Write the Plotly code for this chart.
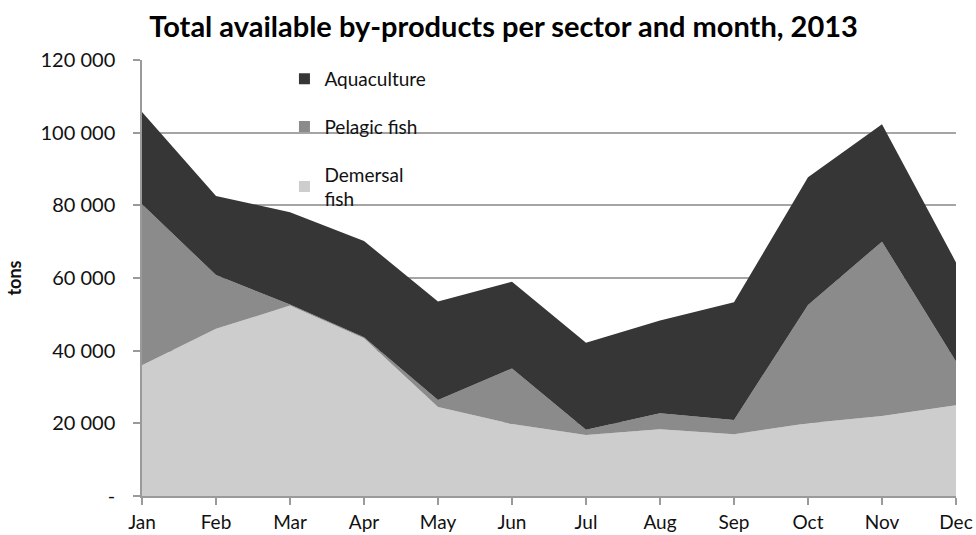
import plotly.graph_objects as go

# Monthly by-product volumes (tons), 2013
months = ["Jan", "Feb", "Mar", "Apr", "May", "Jun", "Jul", "Aug", "Sep", "Oct", "Nov", "Dec"]
demersal_fish = [36000, 46000, 52400, 43400, 24500, 19800, 16800, 18400, 17000, 20000, 22000, 25000]
pelagic_fish = [44300, 14800, 300, 300, 1900, 15300, 1400, 4400, 3900, 32600, 48000, 12000]
aquaculture = [25400, 21800, 25400, 26500, 27100, 23900, 24000, 25500, 32400, 35100, 32300, 27300]

y_ticks = [0, 20000, 40000, 60000, 80000, 100000, 120000]
y_tick_text = ["-", "20 000", "40 000", "60 000", "80 000", "100 000", "120 000"]

colors = {"Demersal": "#cdcdcd", "Pelagic": "#8b8b8b", "Aquaculture": "#363636"}
font_family = "Lato, 'Open Sans', sans-serif"

fig = go.Figure()

# bottom to top in the stack; rank sets the legend order (top entry first)
series = [
    ("Demersal<br>fish", demersal_fish, colors["Demersal"], 3),
    ("Pelagic fish", pelagic_fish, colors["Pelagic"], 2),
    ("Aquaculture", aquaculture, colors["Aquaculture"], 1),
]

for i, (name, vals, col, rank) in enumerate(series):
    fig.add_trace(go.Scatter(
        x=months, y=vals, name=name, mode="lines",
        stackgroup="one", line=dict(width=0, color=col),
        fillcolor=col, showlegend=False, hoverinfo="x+y+name",
    ))
    # square legend key for the series
    fig.add_trace(go.Scatter(
        x=[None], y=[None], name=name, mode="markers",
        marker=dict(symbol="square", size=11, color=col),
        legendgroup="g%d" % rank, legendrank=rank, showlegend=True,
    ))

fig.update_layout(
    width=976, height=535,
    margin=dict(l=142, r=20, t=60, b=39, autoexpand=False),
    paper_bgcolor="white", plot_bgcolor="white",
    font=dict(family=font_family, size=19, color="#111111"),
    title=dict(
        text="<b>Total available by-products per sector and month, 2013</b>",
        x=0.516, xanchor="center", y=0.95, yanchor="middle",
        font=dict(size=29, color="#000000"),
    ),
    legend=dict(
        x=0.175, xanchor="left", y=1.0, yanchor="top",
        bgcolor="rgba(0,0,0,0)", traceorder="grouped",
        tracegroupgap=20, font=dict(size=19),
        itemwidth=30,
    ),
    showlegend=True,
)

fig.update_xaxes(
    range=[0, 11], showgrid=False, showline=True, linecolor="#9a9a9a", linewidth=1.5,
    ticks="outside", ticklen=7, tickcolor="#9a9a9a", tickwidth=1.5,
    ticklabelstandoff=1, tickfont=dict(size=19), fixedrange=True, automargin=False,
)
fig.update_yaxes(
    range=[0, 120000], tickvals=y_ticks, ticktext=y_tick_text,
    showgrid=True, gridcolor="#a5a5a5", gridwidth=1.5,
    showline=True, linecolor="#9a9a9a", linewidth=1.5,
    ticks="outside", ticklen=7, tickcolor="#9a9a9a", tickwidth=1.5,
    ticklabelstandoff=14, tickfont=dict(size=20),
    title=dict(text="<b>tons</b>", font=dict(size=18), standoff=14),
    zeroline=False, fixedrange=True, automargin=False,
)

fig.write_html("out.html")
